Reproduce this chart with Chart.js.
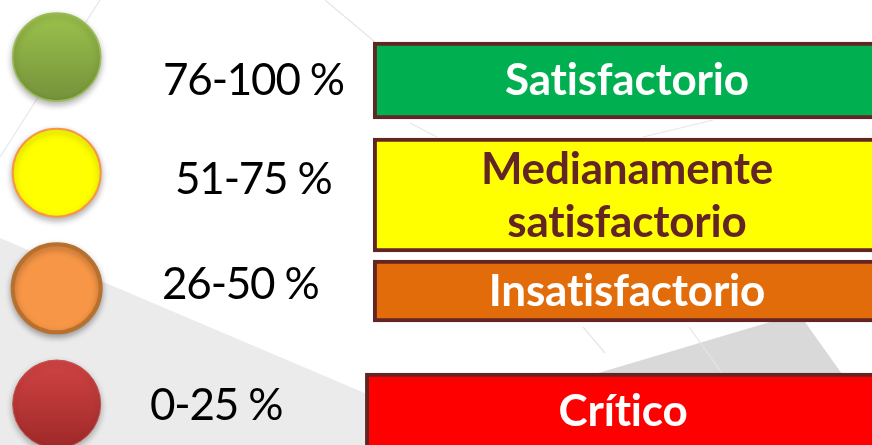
<!DOCTYPE html>
<html>
<head>
<meta charset="utf-8">
<script src="https://cdn.jsdelivr.net/npm/chart.js@4.4.0/dist/chart.umd.min.js"></script>
<style>
  html, body { margin: 0; padding: 0; background: #fff; overflow: hidden; }
  #wrap { width: 872px; height: 445px; position: relative; }
</style>
</head>
<body>
<div id="wrap"><canvas id="semaforo"></canvas></div>
<script>
// niveles de cumplimiento (de mejor a peor)
const niveles = ['Satisfactorio', ['Medianamente', 'satisfactorio'], 'Insatisfactorio', 'Crítico'];
const rangos = ['76-100 %', '51-75 %', '26-50 %', '0-25 %'];
const filas = [0, 1, 2, 3];

// colores
const cajaColor = ['#00B050', '#FFFF00', '#E36C0A', '#FF0000'];
const textoColor = ['#FFFFFF', '#632523', '#FFFFFF', '#FFFFFF'];
const circuloArriba = ['#9DC34D', '#FFFF00', '#F79646', '#D24444'];
const circuloAbajo = ['#74913A', '#FFFF00', '#F79646', '#9E2828'];
const circuloBorde = ['#9BBB59', '#F79646', '#B8702F', '#C0504D'];
const circuloBordeAncho = [1.5, 2, 4, 1];
const bordeCaja = '#632523';

// posiciones (x en % del ancho, y en filas)
const circuloX = 6.5;
const cajaDesde = [42.8, 42.8, 42.8, 41.9];
const cajaHasta = 101;
const cajaFila = [0.203, 1.193, 2.023, 3.06];
const cajaAlto = [77, 114, 62, 76];
const rangoX = [163, 175, 162, 150];   // px, borde izquierdo del texto
const rangoDy = [38, 21, 11, 15.5];    // px, linea base respecto al circulo

function rellenoCirculo(ctx) {
    const i = ctx.dataIndex;
    const c = ctx.chart;
    if (i === undefined) return circuloArriba[0];
    if (!c.chartArea || !c.scales.y) return circuloArriba[i];
    const yc = c.scales.y.getPixelForValue(filas[i]);
    const g = c.ctx.createLinearGradient(0, yc - 45, 0, yc + 45);
    g.addColorStop(0, circuloArriba[i]);
    g.addColorStop(1, circuloAbajo[i]);
    return g;
}

const fondo = {
    id: 'fondo',
    beforeDraw(chart) {
        const ctx = chart.ctx;
        ctx.save();
        ctx.fillStyle = '#FFFFFF';
        ctx.fillRect(0, 0, chart.width, chart.height);
        ctx.fillStyle = '#EBEBEB';
        ctx.beginPath();
        ctx.moveTo(0, 238); ctx.lineTo(487, 445); ctx.lineTo(0, 445);
        ctx.closePath(); ctx.fill();
        ctx.fillStyle = '#D9D9D9';
        ctx.beginPath();
        ctx.moveTo(595, 374); ctx.lineTo(770, 322); ctx.lineTo(805, 322); ctx.lineTo(842, 374);
        ctx.closePath(); ctx.fill();
        ctx.strokeStyle = '#E6E6E6';
        ctx.lineWidth = 1.2;
        [[100, 0, 0, 157], [325, 0, 375, 42], [410, 123, 437, 137], [643, 137, 713, 120],
         [583, 327, 605, 353], [689, 327, 722, 373]].forEach(l => {
            ctx.beginPath(); ctx.moveTo(l[0], l[1]); ctx.lineTo(l[2], l[3]); ctx.stroke();
        });
        ctx.restore();
    }
};

const sombra = {
    id: 'sombra',
    beforeDatasetDraw(chart, args) {
        if (args.index !== 0) return;
        chart.ctx.save();
        chart.ctx.shadowColor = 'rgba(0,0,0,0.3)';
        chart.ctx.shadowBlur = 6;
        chart.ctx.shadowOffsetY = 3;
    },
    afterDatasetDraw(chart, args) {
        if (args.index !== 0) return;
        chart.ctx.restore();
    }
};

const textos = {
    id: 'textos',
    afterDatasetsDraw(chart) {
        const {ctx, scales: {x, y}} = chart;
        ctx.save();
        ctx.textBaseline = 'alphabetic';
        ctx.font = '44px Lato';
        ctx.letterSpacing = '-1.2px';
        ctx.fillStyle = '#000000';
        ctx.textAlign = 'left';
        rangos.forEach((r, i) => {
            ctx.fillText(r, rangoX[i], y.getPixelForValue(filas[i]) + rangoDy[i]);
        });
        ctx.font = 'bold 44px Lato';
        ctx.letterSpacing = '-0.2px';
        ctx.textAlign = 'center';
        niveles.forEach((n, i) => {
            const bar = chart.getDatasetMeta(i + 1).data[0];
            const cx = (bar.x + bar.base) / 2;
            const lineas = Array.isArray(n) ? n : [n];
            ctx.fillStyle = textoColor[i];
            lineas.forEach((t, k) => {
                ctx.fillText(t, cx, bar.y + 15 + (k - (lineas.length - 1) / 2) * 53);
            });
        });
        ctx.restore();
    }
};

const datasets = [{
    type: 'scatter',
    label: 'rangos',
    data: filas.map(f => ({x: circuloX, y: f})),
    pointRadius: 44,
    pointHoverRadius: 44,
    pointBackgroundColor: rellenoCirculo,
    pointBorderColor: circuloBorde,
    pointBorderWidth: circuloBordeAncho,
    pointHoverBorderWidth: circuloBordeAncho
}];

niveles.forEach((n, i) => {
    datasets.push({
        type: 'bar',
        indexAxis: 'y',
        label: Array.isArray(n) ? n.join(' ') : n,
        data: [{x: [cajaDesde[i], cajaHasta], y: cajaFila[i]}],
        backgroundColor: cajaColor[i],
        borderColor: bordeCaja,
        borderWidth: 4,
        borderSkipped: false,
        barThickness: cajaAlto[i],
        grouped: false
    });
});

const chart = new Chart('semaforo', {
    type: 'bar',
    data: {datasets: datasets},
    options: {
        responsive: true,
        maintainAspectRatio: false,
        animation: false,
        layout: {padding: 0, autoPadding: false},
        scales: {
            x: {type: 'linear', min: 0, max: 100, display: false, offset: false},
            y: {type: 'linear', min: -0.4928, max: 3.354, reverse: true, display: false, offset: false}
        },
        plugins: {
            legend: {display: false},
            tooltip: {enabled: false}
        }
    },
    plugins: [fondo, sombra, textos]
});
</script>
</body>
</html>
